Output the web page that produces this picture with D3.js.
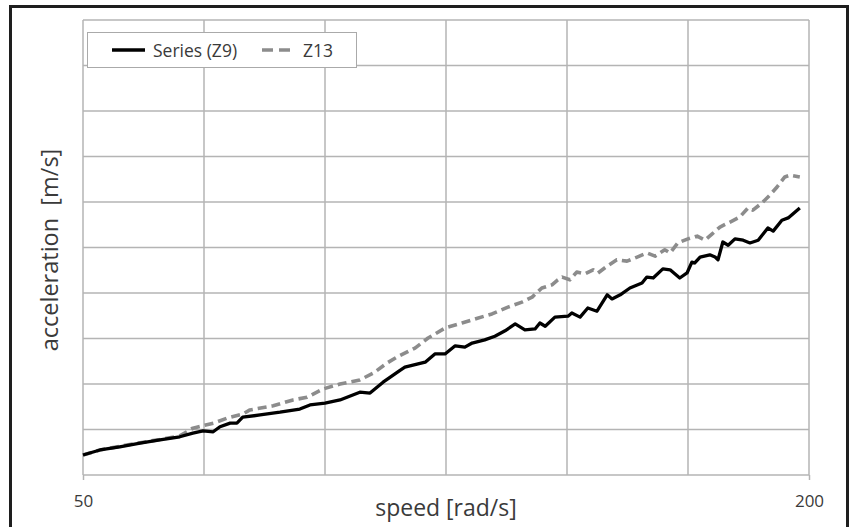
<!DOCTYPE html>
<html>
<head>
<meta charset="utf-8">
<script src="https://cdn.jsdelivr.net/npm/d3@7/dist/d3.min.js"></script>
<style>
  html, body { margin: 0; padding: 0; background: #fff; }
  svg { display: block; }
  text { font-family: "Open Sans", sans-serif; fill: #3a3a3a; }
</style>
</head>
<body>
<svg id="chart" width="859" height="527"></svg>
<script>
// ---- data ----
const speedZ9 = [50,53.5,57.6,61.8,65.9,70,72.7,74.8,76.9,78.3,80.4,81.8,83,86.6,90.7,94.8,96.9,100,103.1,107.2,109.3,112,115.5,116.5,120.7,122.7,124.8,126.9,128.9,130.4,133,135.1,137.2,139.3,141.3,143.4,144.4,145.5,147.5,150.2,151,152.7,154.3,156.2,158.3,159.3,161,163,165.5,166.5,167.8,169.8,171.3,173.3,174.8,175.8,176.4,177.5,179.5,180.6,181.2,182.2,183.3,184.7,186.4,187.8,189.5,191.5,192.6,194.4,195.7,198.1];
const accZ9 = [0.44,0.55,0.62,0.70,0.77,0.84,0.92,0.97,0.95,1.06,1.14,1.14,1.27,1.32,1.38,1.45,1.54,1.58,1.65,1.82,1.80,2.04,2.30,2.37,2.48,2.66,2.66,2.84,2.81,2.90,2.97,3.05,3.17,3.32,3.19,3.21,3.34,3.27,3.47,3.49,3.56,3.47,3.67,3.60,3.96,3.87,3.96,4.11,4.22,4.35,4.33,4.53,4.51,4.33,4.44,4.68,4.66,4.79,4.84,4.79,4.73,5.12,5.05,5.19,5.16,5.10,5.16,5.43,5.36,5.60,5.65,5.87];

const speedZ13 = [50,53.5,57.6,61.8,65.9,70,72.7,77,79.8,83,84.5,89.3,93.4,96.3,99.6,103.1,107.2,110,112.8,115,118.6,121.3,124.8,128.3,131,134.5,137.8,140.7,142.8,144.8,146.9,148.1,149,150.6,152,153.7,155.4,156.4,158.3,160.3,162.4,164.5,166.5,168.2,170.2,171.3,172.9,175,176.9,178.5,180,181.6,183.7,185.7,187.4,188.4,190.3,191.9,193.4,195,196.1,198.1];
const accZ13 = [0.44,0.55,0.63,0.71,0.78,0.86,1.03,1.14,1.25,1.34,1.43,1.52,1.65,1.71,1.89,2.00,2.09,2.24,2.46,2.60,2.79,3.01,3.23,3.34,3.43,3.54,3.69,3.80,3.91,4.11,4.18,4.29,4.35,4.29,4.46,4.42,4.51,4.44,4.59,4.73,4.70,4.79,4.88,4.81,4.95,4.88,5.10,5.19,5.25,5.16,5.30,5.45,5.56,5.67,5.87,5.82,5.98,6.15,6.33,6.55,6.59,6.55];

const xTicks = [50, 75, 100, 125, 150, 175, 200];
const xTickLabels = ["50", "", "", "", "", "", "200"];
const yTicks = [0,1,2,3,4,5,6,7,8,9,10];
const seriesNames = ["Series (Z9)", "Z13"];
const xTitle = "speed [rad/s]";
const yTitle = "acceleration  [m/s]";

// ---- layout ----
const svg = d3.select("#chart");
const plot = { left: 83, right: 809, top: 20, bottom: 475 };

const x = d3.scaleLinear().domain([50, 200]).range([plot.left, plot.right]);
const y = d3.scaleLinear().domain([0, 10]).range([plot.bottom, plot.top]);

// outer frame
svg.append("rect")
  .attr("x", 10.5).attr("y", 6.5).attr("width", 837).attr("height", 530)
  .attr("fill", "none").attr("stroke", "#1e1e1e").attr("stroke-width", 3);

const gridColor = "#b4b4b4";

// horizontal grid
svg.append("g").selectAll("line").data(yTicks).join("line")
  .attr("x1", plot.left).attr("x2", plot.right)
  .attr("y1", d => y(d)).attr("y2", d => y(d))
  .attr("stroke", gridColor).attr("stroke-width", 1.5);

// vertical grid
svg.append("g").selectAll("line").data(xTicks).join("line")
  .attr("y1", plot.top).attr("y2", plot.bottom)
  .attr("x1", d => x(d)).attr("x2", d => x(d))
  .attr("stroke", gridColor).attr("stroke-width", 1.5);

// x axis (ticks at ends only, labels at ends)
const xAxis = d3.axisBottom(x)
  .tickValues([50, 200])
  .tickSize(5)
  .tickFormat((d) => xTickLabels[xTicks.indexOf(d)]);
const gx = svg.append("g").attr("transform", `translate(0,${plot.bottom})`).call(xAxis);
gx.select(".domain").remove();
gx.selectAll(".tick line").attr("stroke", gridColor).attr("stroke-width", 1.5);
gx.selectAll(".tick text")
  .attr("y", 20).attr("dy", "0.71em")
  .style("font-family", '"Open Sans", sans-serif')
  .style("font-size", "17px").attr("fill", "#3a3a3a");

// lines
const line = d3.line().x(d => x(d[0])).y(d => y(d[1]));
const dataZ9 = speedZ9.map((s, i) => [s, accZ9[i]]);
const dataZ13 = speedZ13.map((s, i) => [s, accZ13[i]]);

svg.append("path").datum(dataZ13)
  .attr("d", line).attr("fill", "none")
  .attr("stroke", "#8c8c8c").attr("stroke-width", 3.6)
  .attr("stroke-dasharray", "9,5").attr("stroke-linejoin", "round");

svg.append("path").datum(dataZ9)
  .attr("d", line).attr("fill", "none")
  .attr("stroke", "#000").attr("stroke-width", 3.3)
  .attr("stroke-linejoin", "round");

// axis titles
svg.append("text")
  .attr("x", (plot.left + plot.right) / 2).attr("y", 516)
  .attr("text-anchor", "middle")
  .style("font-size", "23px")
  .text(xTitle);

svg.append("text")
  .attr("transform", "translate(58,250) rotate(-90)")
  .attr("text-anchor", "middle")
  .attr("xml:space", "preserve")
  .style("white-space", "pre")
  .style("font-size", "23.5px")
  .text(yTitle);

// legend
const lg = svg.append("g");
lg.append("rect")
  .attr("x", 87.5).attr("y", 32.5).attr("width", 269).attr("height", 35)
  .attr("fill", "#fff").attr("stroke", "#aaaaaa").attr("stroke-width", 1);
lg.append("line").attr("x1", 112).attr("x2", 145).attr("y1", 50).attr("y2", 50)
  .attr("stroke", "#000").attr("stroke-width", 3.4);
lg.append("text").attr("x", 153).attr("y", 56.5).style("font-size", "17.5px").text(seriesNames[0]);
lg.append("line").attr("x1", 262).attr("x2", 293).attr("y1", 50).attr("y2", 50)
  .attr("stroke", "#8c8c8c").attr("stroke-width", 3.6).attr("stroke-dasharray", "11,6");
lg.append("text").attr("x", 303).attr("y", 56.5).style("font-size", "17.5px").text(seriesNames[1]);
</script>
</body>
</html>
